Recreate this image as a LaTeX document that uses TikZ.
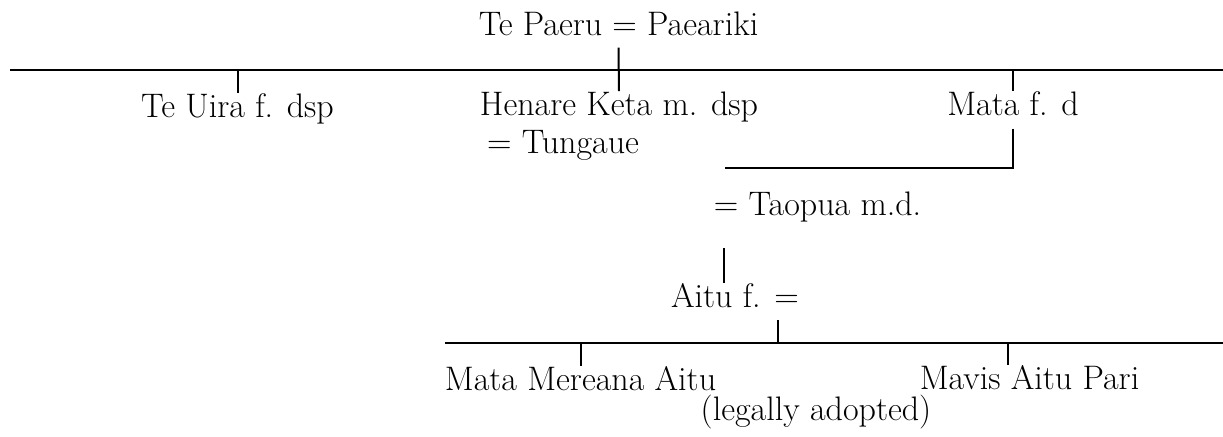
\documentclass[tikz,border=0pt]{standalone}
\begin{document}
\begin{tikzpicture}[x=0.5pt, y=-0.5pt,
    every node/.style={inner sep=0pt, anchor=base, font=\fontsize{17}{20}\selectfont},
    line/.style={line width=1pt}]

  \useasboundingbox (0,0) rectangle (1223,436);

  % Couples and children
  \node (paeru)   at (618.5,35) {Te Paeru = Paeariki};
  \node (uira)    at (237.5,117) {Te Uira f. dsp};
  \node (henare)  at (619,115)  {Henare Keta m. dsp};
  \node (tungaue) at (563,153)  {= Tungaue};
  \node (mata)    at (1013,115) {Mata f. d};
  \node (taopua)  at (817.5,215) {= Taopua m.d.};
  \node (aitu)    at (735,307)  {Aitu f. =};
  \node (mereana) at (580.5,390) {Mata Mereana Aitu};
  \node (mavis)   at (1029.5,389) {Mavis Aitu Pari};
  \node (adopted) at (816,420)  {(legally adopted)};

  % Sibling lines
  \coordinate (top-l) at (10,70);
  \coordinate (top-r) at (1223,70);
  \coordinate (bot-l) at (445,343);
  \coordinate (bot-r) at (1223,343);
  \draw[line] (top-l) -- (top-r);
  \draw[line] (bot-l) -- (bot-r);

  % Descent lines
  \draw[line] ([yshift=-6pt]paeru.south) -- (henare.north);
  \draw[line] (uira.north) -- (uira.north |- top-l);
  \draw[line] (mata.north) -- (mata.north |- top-l);

  \coordinate (mata-end) at (725,168);
  \draw[line] ([yshift=-6.5pt]mata.south) |- (mata-end);

  \coordinate (aitu-up) at (724,248);
  \draw[line] (aitu-up) -- (aitu-up |- aitu.north);

  \coordinate (aitu-dn) at (778,320);
  \draw[line] (aitu-dn) -- (aitu-dn |- bot-l);

  \draw[line] (mereana.north) -- (mereana.north |- bot-l);
  \coordinate (mavis-up) at (1008,343);
  \draw[line] (mavis-up) -- (mavis-up |- mavis.north);

\end{tikzpicture}
\end{document}
